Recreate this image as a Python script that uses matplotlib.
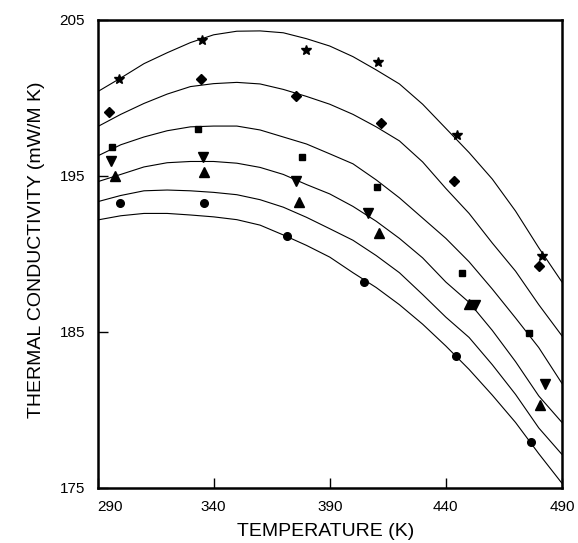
import matplotlib
matplotlib.use("Agg")
import matplotlib.pyplot as plt

plt.rcParams['font.family'] = ['Liberation Sans', 'DejaVu Sans']

# Messpunkte
star_T = [299.1, 334.9, 379.7, 410.8, 444.7, 481.5]
star_k = [201.2, 203.7, 203.1, 202.3, 197.6, 189.9]
diamond_T = [294.8, 334.7, 375.3, 412.2, 443.5, 480.2]
diamond_k = [199.1, 201.2, 200.1, 198.4, 194.7, 189.2]
square_T = [296.3, 333.2, 378.1, 410.2, 447.0, 475.6]
square_k = [196.84, 198.0, 196.24, 194.3, 188.76, 184.96]
down_T = [295.7, 335.3, 375.3, 406.3, 452.4, 482.6]
down_k = [195.96, 196.24, 194.68, 192.65, 186.73, 181.67]
up_T = [297.5, 335.8, 376.7, 411.2, 450.1, 480.4]
up_k = [195.0, 195.28, 193.31, 191.33, 186.8, 180.3]
circle_T = [299.7, 335.8, 371.5, 404.6, 444.2, 476.6]
circle_k = [193.25, 193.25, 191.15, 188.2, 183.46, 177.93]

curve_T = [290, 300, 310, 320, 330, 340, 350, 360, 370, 380, 390,
           400, 410, 420, 430, 440, 450, 460, 470, 480, 490]
curve1 = [200.40, 201.28, 202.2, 202.9, 203.55, 204.05, 204.28, 204.3, 204.18, 203.8, 203.33,
          202.65, 201.8, 200.9, 199.6, 198.05, 196.5, 194.8, 192.75, 190.4, 188.2]
curve2 = [198.16, 198.95, 199.65, 200.25, 200.73, 200.92, 201.0, 200.9, 200.55, 200.1, 199.6,
          198.95, 198.15, 197.25, 195.9, 194.2, 192.6, 190.7, 188.9, 186.75, 184.75]
curve3 = [196.28, 197.0, 197.5, 197.9, 198.15, 198.2, 198.2, 197.95, 197.5, 197.05, 196.42,
          195.78, 194.75, 193.6, 192.3, 191.0, 189.5, 187.75, 185.9, 184.0, 181.7]
curve4 = [194.63, 195.1, 195.58, 195.85, 195.93, 195.93, 195.82, 195.55, 195.1, 194.45, 193.85,
          193.05, 192.1, 191.0, 189.75, 188.2, 186.9, 185.1, 183.1, 180.9, 179.2]
curve5 = [193.35, 193.75, 194.05, 194.1, 194.05, 193.95, 193.8, 193.48, 193.0, 192.35, 191.62,
          190.88, 189.9, 188.8, 187.4, 185.95, 184.65, 182.9, 181.0, 178.85, 177.15]
curve6 = [192.18, 192.45, 192.6, 192.6, 192.5, 192.38, 192.2, 191.85, 191.22, 190.55, 189.8,
          188.8, 187.85, 186.75, 185.5, 184.1, 182.6, 180.95, 179.2, 177.2, 175.3]

x_ticks = [290, 340, 390, 440, 490]
y_ticks = [175, 185, 195, 205]

fig = plt.figure(figsize=(5.78, 5.43), dpi=100)
ax = fig.add_axes([0.1687, 0.1013, 0.8036, 0.8619])

for c in [curve1, curve2, curve3, curve4, curve5, curve6]:
    ax.plot(curve_T, c, color="black", linewidth=0.8, zorder=2)

ax.plot(star_T, star_k, linestyle="none", marker="*", color="black", markersize=7.5, zorder=3)
ax.plot(diamond_T, diamond_k, linestyle="none", marker="D", color="black", markersize=5, zorder=3)
ax.plot(square_T, square_k, linestyle="none", marker="s", color="black", markersize=5, zorder=3)
ax.plot(down_T, down_k, linestyle="none", marker="v", color="black", markersize=6.5, zorder=3)
ax.plot(up_T, up_k, linestyle="none", marker="^", color="black", markersize=6.5, zorder=3)
ax.plot(circle_T, circle_k, linestyle="none", marker="o", color="black", markersize=5.5, zorder=3)

ax.set_xlim(290, 490)
ax.set_ylim(175, 205)
ax.set_xticks(x_ticks)
ax.set_yticks(y_ticks)
ax.tick_params(direction="in", length=7, width=1.0, labelsize=11, pad=9)
ax.get_xticklabels()[0].set_horizontalalignment("left")
for s in ax.spines.values():
    s.set_linewidth(1.8)

ax.set_xlabel("TEMPERATURE (K)", fontsize=14)
ax.set_ylabel("THERMAL CONDUCTIVITY (mW/M K)", fontsize=14)
ax.xaxis.set_label_coords(0.492, -0.075)
ax.yaxis.set_label_coords(-0.113, 0.51)

fig.savefig("out.png", dpi=100)
